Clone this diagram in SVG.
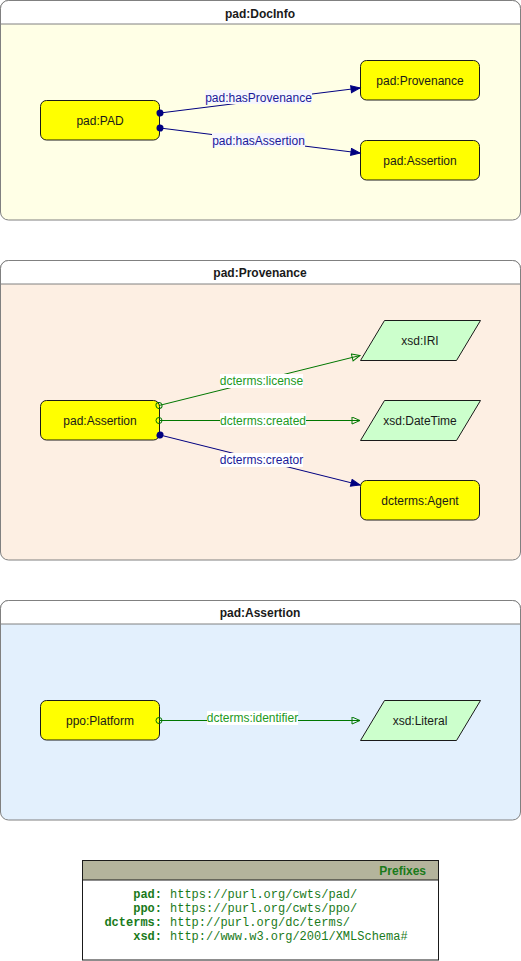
<svg xmlns="http://www.w3.org/2000/svg" width="521" height="961" viewBox="0 0 521 961">
<style>
  .title{font-family:"Liberation Sans",Arial,sans-serif;font-size:12px;font-weight:bold;fill:#1a1a1a;text-anchor:middle}
  .ntext{font-family:"Liberation Sans",Arial,sans-serif;font-size:12px;fill:#1a1a1a;text-anchor:middle}
  .node{fill:#ffff00;stroke:#1a1a1a;stroke-width:1}
  .lit{fill:#ccffcc;stroke:#1a1a1a;stroke-width:1}
  .cont{stroke:#808080;stroke-width:1}
  .blue{stroke:#000080;stroke-width:1;fill:none}
  .green{stroke:#007700;stroke-width:1;fill:none}
  .lblb{font-family:"Liberation Sans",Arial,sans-serif;font-size:12px;fill:#1a1a99;text-anchor:middle}
  .lblg{font-family:"Liberation Sans",Arial,sans-serif;font-size:12px;fill:#229922;text-anchor:middle}
  .pfx{font-family:"Liberation Mono","Courier New",monospace;font-size:12px;font-weight:bold;fill:#1a7a1a;text-anchor:end}
  .url{font-family:"Liberation Mono","Courier New",monospace;font-size:12px;fill:#1a7a1a}
</style>
<defs>
  <marker id="dotB" markerUnits="userSpaceOnUse" markerWidth="10" markerHeight="10" refX="5" refY="5" orient="auto">
    <circle cx="5" cy="5" r="3.5" fill="#000080"/>
  </marker>
  <marker id="ringG" markerUnits="userSpaceOnUse" markerWidth="10" markerHeight="10" refX="5" refY="5" orient="auto">
    <circle cx="5" cy="5" r="3" fill="none" stroke="#007700" stroke-width="1"/>
  </marker>
  <marker id="arrB" markerUnits="userSpaceOnUse" markerWidth="12" markerHeight="10" refX="10" refY="4" orient="auto">
    <path d="M1,0.5 L10,4 L1,7.5 z" fill="#000080" stroke="#000080" stroke-width="1"/>
  </marker>
  <marker id="arrG" markerUnits="userSpaceOnUse" markerWidth="12" markerHeight="10" refX="9" refY="4" orient="auto">
    <path d="M1,0.5 L9,4 L1,7.5 z" fill="none" stroke="#007700" stroke-width="1"/>
  </marker>
</defs>

<!-- Containers -->
<g id="docinfo">
  <rect class="cont" x="0.5" y="0.5" width="520" height="219.5" rx="8" fill="#ffffe6"/>
  <path d="M0.5,24 V8.5 A8,8 0 0 1 8.5,0.5 H512.5 A8,8 0 0 1 520.5,8.5 V24 Z" fill="#ffffff" stroke="#808080"/>
  <text class="title" x="260" y="17.5">pad:DocInfo</text>
</g>
<g id="provenance">
  <rect class="cont" x="0.5" y="260.5" width="520" height="299.5" rx="8" fill="#fdefe3"/>
  <path d="M0.5,284 V268.5 A8,8 0 0 1 8.5,260.5 H512.5 A8,8 0 0 1 520.5,268.5 V284 Z" fill="#ffffff" stroke="#808080"/>
  <text class="title" x="260" y="277">pad:Provenance</text>
</g>
<g id="assertion">
  <rect class="cont" x="0.5" y="600.5" width="520" height="219.5" rx="8" fill="#e3f0fd"/>
  <path d="M0.5,624 V608.5 A8,8 0 0 1 8.5,600.5 H512.5 A8,8 0 0 1 520.5,608.5 V624 Z" fill="#ffffff" stroke="#808080"/>
  <text class="title" x="260" y="617">pad:Assertion</text>
</g>

<!-- Nodes -->
<g id="n-pad-pad">
  <rect class="node" x="40.5" y="100.5" width="119" height="39.5" rx="6"/>
  <text class="ntext" x="100" y="124.5">pad:PAD</text>
</g>
<g id="n-pad-provenance">
  <rect class="node" x="360.5" y="60.5" width="119" height="39.5" rx="6"/>
  <text class="ntext" x="420" y="84.5">pad:Provenance</text>
</g>
<g id="n-pad-assertion-1">
  <rect class="node" x="360.5" y="140.5" width="119" height="39.5" rx="6"/>
  <text class="ntext" x="420" y="164.5">pad:Assertion</text>
</g>

<g id="n-pad-assertion-2">
  <rect class="node" x="40.5" y="400.5" width="119" height="39.5" rx="6"/>
  <text class="ntext" x="100" y="424.5">pad:Assertion</text>
</g>
<g id="n-xsd-iri">
  <polygon class="lit" points="384.5,320.5 480.5,320.5 456.5,360.5 360.5,360.5"/>
  <text class="ntext" x="420" y="344.5">xsd:IRI</text>
</g>
<g id="n-xsd-datetime">
  <polygon class="lit" points="384.5,400.5 480.5,400.5 456.5,440.5 360.5,440.5"/>
  <text class="ntext" x="420" y="424.5">xsd:DateTime</text>
</g>
<g id="n-dcterms-agent">
  <rect class="node" x="360.5" y="480.5" width="119" height="39.5" rx="6"/>
  <text class="ntext" x="420" y="504.5">dcterms:Agent</text>
</g>

<g id="n-ppo-platform">
  <rect class="node" x="40.5" y="700.5" width="119" height="39.5" rx="6"/>
  <text class="ntext" x="100" y="724.5">ppo:Platform</text>
</g>
<g id="n-xsd-literal">
  <polygon class="lit" points="384.5,700.5 480.5,700.5 456.5,740.5 360.5,740.5"/>
  <text class="ntext" x="420" y="724.5">xsd:Literal</text>
</g>

<!-- Connectors -->
<g id="connectors">
  <line class="blue" x1="160" y1="113" x2="360" y2="88" marker-start="url(#dotB)" marker-end="url(#arrB)"/>
  <rect x="205" y="90" width="107" height="14" fill="#f6f6fc"/>
  <text class="lblb" x="258.5" y="101.5">pad:hasProvenance</text>
  <line class="blue" x1="160" y1="128" x2="360" y2="153" marker-start="url(#dotB)" marker-end="url(#arrB)"/>
  <rect x="212" y="133" width="93" height="14" fill="#f6f6fc"/>
  <text class="lblb" x="258.5" y="144.5">pad:hasAssertion</text>

  <line class="green" x1="159" y1="405.5" x2="360" y2="355.5" marker-start="url(#ringG)" marker-end="url(#arrG)"/>
  <rect x="220" y="374" width="83" height="14" fill="#ffffff"/>
  <text class="lblg" x="261.5" y="385">dcterms:license</text>
  <line class="green" x1="159" y1="420.5" x2="360" y2="420.5" marker-start="url(#ringG)" marker-end="url(#arrG)"/>
  <rect x="220" y="413" width="86" height="14" fill="#ffffff"/>
  <text class="lblg" x="263" y="424.5">dcterms:created</text>
  <line class="blue" x1="160" y1="435" x2="360" y2="485" marker-start="url(#dotB)" marker-end="url(#arrB)"/>
  <rect x="220" y="453" width="83" height="14" fill="#ffffff"/>
  <text class="lblb" x="261.5" y="464">dcterms:creator</text>

  <line class="green" x1="159" y1="720.5" x2="360" y2="720.5" marker-start="url(#ringG)" marker-end="url(#arrG)"/>
  <rect x="207" y="711" width="91" height="14" fill="#ffffff"/>
  <text class="lblg" x="252.5" y="722">dcterms:identifier</text>
</g>

<!-- Prefixes -->
<g id="prefixes">
  <rect x="82.5" y="860.5" width="356" height="99.5" fill="#ffffff" stroke="#1a1a1a"/>
  <rect x="82.5" y="860.5" width="356" height="19.5" fill="#b4b49c" stroke="#1a1a1a"/>
  <text x="426" y="875" font-family="'Liberation Sans',Arial,sans-serif" font-size="12" font-weight="bold" fill="#1a7a1a" text-anchor="end">Prefixes</text>
  <text class="pfx" x="162" y="898">pad:</text>
  <text class="url" x="170" y="898">https://purl.org/cwts/pad/</text>
  <text class="pfx" x="162" y="912">ppo:</text>
  <text class="url" x="170" y="912">https://purl.org/cwts/ppo/</text>
  <text class="pfx" x="162" y="926">dcterms:</text>
  <text class="url" x="170" y="926">http://purl.org/dc/terms/</text>
  <text class="pfx" x="162" y="940">xsd:</text>
  <text class="url" x="170" y="940">http://www.w3.org/2001/XMLSchema#</text>
</g>
</svg>
